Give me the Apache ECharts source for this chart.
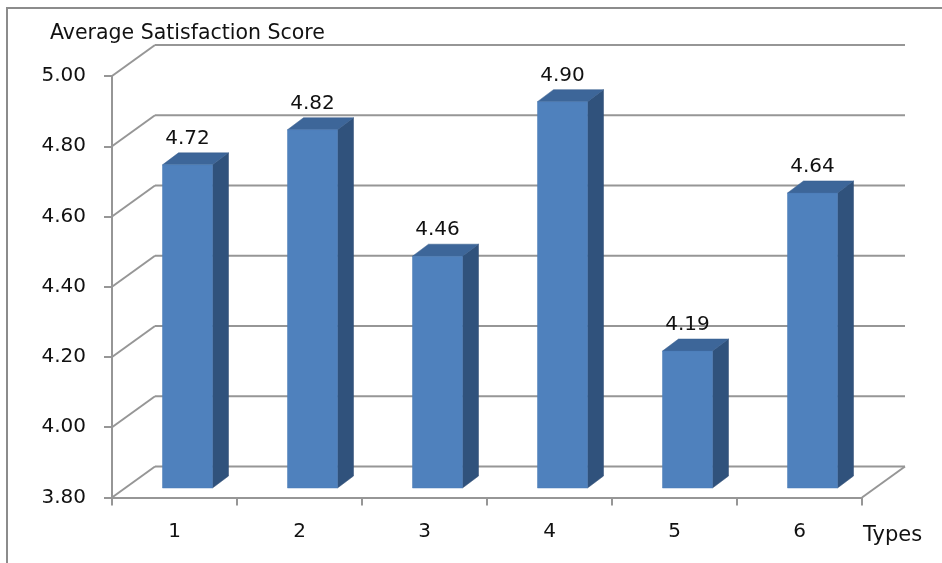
<!DOCTYPE html>
<html>
<head>
<meta charset="utf-8">
<script src="https://cdn.jsdelivr.net/npm/echarts@6/dist/echarts.min.js"></script>
<style>
  html, body { margin: 0; padding: 0; background: #ffffff; }
  #chart { width: 942px; height: 563px; }
</style>
</head>
<body>
<div id="chart"></div>
<script>
// Category labels and mean scores per type
const categories = ['1', '2', '3', '4', '5', '6'];
const scores = [4.72, 4.82, 4.46, 4.90, 4.19, 4.64];
// Value-axis range and the wall lines drawn at each step
const yMin = 3.8;
const yMax = 5.0;
const yStep = 0.2;
const wallTicks = [3.8, 4.0, 4.2, 4.4, 4.6, 4.8, 5.0];

const titleText = 'Average Satisfaction Score';
const xName = 'Types';

// Pseudo-3D box geometry (pixels)
const DEPTH = [43, -31];      // front plane -> back wall
const BAR_SHIFT = [13, -9.5]; // front plane -> bar front face
const BAR_DEPTH = [16, -12];  // bar front face -> bar back face
const GRID_COLOR = '#969696';
const TEXT_COLOR = '#111111';
const FONT = '"DejaVu Sans", Verdana, sans-serif';

const chart = echarts.init(document.getElementById('chart'), null, { renderer: 'canvas' });

function renderWall(params, api) {
  const cs = params.coordSys;
  const v = api.value(0);
  const y = api.coord([0, v])[1];
  const x0 = cs.x;
  const x1 = cs.x + cs.width;
  const style = { stroke: GRID_COLOR, lineWidth: 2, fill: null };
  const children = [
    { type: 'line', shape: { x1: x0, y1: y, x2: x0 + DEPTH[0], y2: y + DEPTH[1] }, style: style },
    { type: 'line', shape: { x1: x0 + DEPTH[0], y1: y + DEPTH[1], x2: x1 + DEPTH[0], y2: y + DEPTH[1] }, style: style }
  ];
  if (params.dataIndex === 0) {
    // right edge of the floor
    children.push({ type: 'line', shape: { x1: x1, y1: y, x2: x1 + DEPTH[0], y2: y + DEPTH[1] }, style: style });
  }
  return { type: 'group', children: children };
}

function renderBar(params, api) {
  const idx = api.value(0);
  const val = api.value(1);
  const base = api.coord([idx, yMin]);
  const top = api.coord([idx, val]);
  const w = api.size([1, 0])[0] * 0.4;
  const cx = base[0] + BAR_SHIFT[0];
  const yb = base[1] + BAR_SHIFT[1];
  const yt = top[1] + BAR_SHIFT[1];
  const xl = cx - w / 2;
  const xr = cx + w / 2;
  const dx = BAR_DEPTH[0], dy = BAR_DEPTH[1];
  return {
    type: 'group',
    children: [
      { type: 'polygon', shape: { points: [[xr, yt], [xr + dx, yt + dy], [xr + dx, yb + dy], [xr, yb]] },
        style: { fill: '#30527c', stroke: '#2c4b72', lineWidth: 0.5 } },
      { type: 'polygon', shape: { points: [[xl, yt], [xl + dx, yt + dy], [xr + dx, yt + dy], [xr, yt]] },
        style: { fill: '#3d6699', stroke: '#375d8c', lineWidth: 0.5 } },
      { type: 'rect', shape: { x: xl, y: yt, width: w, height: yb - yt },
        style: { fill: '#4f81bd', stroke: '#4a7ab4', lineWidth: 0.5 } },
      { type: 'text', x: cx, y: yt - 26,
        style: { text: val.toFixed(2), fill: TEXT_COLOR, font: '20px ' + FONT, align: 'center', verticalAlign: 'middle' } }
    ]
  };
}

const option = {
  animation: false,
  backgroundColor: '#ffffff',
  title: {
    text: titleText,
    left: 45,
    top: 18,
    textStyle: { fontFamily: FONT, fontSize: 20.5, fontWeight: 'normal', color: TEXT_COLOR }
  },
  graphic: [
    { type: 'rect', shape: { x: 7, y: 8, width: 1000, height: 1000 },
      style: { fill: null, stroke: '#8c8c8c', lineWidth: 2 }, z: 0 },
    { type: 'text', left: 863, top: 525,
      style: { text: xName, fill: TEXT_COLOR, font: '21px ' + FONT } }
  ],
  grid: { left: 112, top: 76, right: 80, bottom: 65.5, containLabel: false },
  xAxis: {
    type: 'category',
    data: categories,
    boundaryGap: true,
    axisLine: { show: true, lineStyle: { color: GRID_COLOR, width: 2 } },
    axisTick: { show: true, length: 8, alignWithLabel: false, interval: 0, lineStyle: { color: GRID_COLOR, width: 2 } },
    axisLabel: { margin: 24, fontFamily: FONT, fontSize: 20, color: TEXT_COLOR },
    splitLine: { show: false }
  },
  yAxis: {
    type: 'value',
    min: yMin,
    max: yMax,
    interval: yStep,
    axisLine: { show: true, lineStyle: { color: GRID_COLOR, width: 2 } },
    axisTick: { show: true, length: 8, lineStyle: { color: GRID_COLOR, width: 2 } },
    axisLabel: { margin: 26, fontFamily: FONT, fontSize: 20, color: TEXT_COLOR,
      formatter: function (v) { return v.toFixed(2); } },
    splitLine: { show: false }
  },
  series: [
    {
      type: 'custom',
      name: 'walls',
      renderItem: renderWall,
      data: wallTicks.map(function (t) { return [t]; }),
      encode: { y: 0 },
      silent: true,
      z: 1
    },
    {
      type: 'custom',
      name: 'scores',
      renderItem: renderBar,
      data: scores.map(function (s, i) { return [i, s]; }),
      encode: { x: 0, y: 1 },
      z: 3
    }
  ]
};

chart.setOption(option);
</script>
</body>
</html>
